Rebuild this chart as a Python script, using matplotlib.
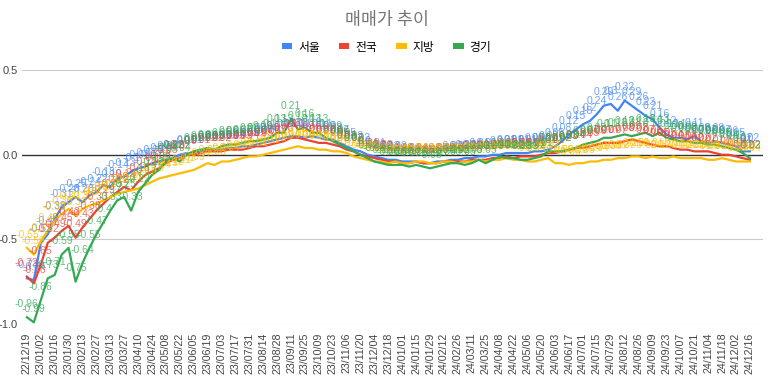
import numpy as np
import pandas as pd
import matplotlib
matplotlib.use("Agg")
import matplotlib.pyplot as plt
from matplotlib.patches import Patch

# weekly dates, every week from 22/12/19 to 24/12/16
dates = pd.date_range("2022-12-19", "2024-12-16", freq="7D")
date_labels = [d.strftime("%y/%m/%d") for d in dates]

seoul = [-0.73, -0.74, -0.52, -0.47, -0.38, -0.31, -0.28, -0.25, -0.28, -0.24,
         -0.22, -0.18, -0.19, -0.14, -0.13, -0.10, -0.08, -0.07, -0.05, -0.04,
         -0.03, -0.02, 0.00, 0.01, 0.01, 0.02, 0.03, 0.03, 0.03, 0.04,
         0.04, 0.05, 0.05, 0.06, 0.07, 0.08, 0.09, 0.10, 0.11, 0.11,
         0.10, 0.11, 0.10, 0.09, 0.09, 0.07, 0.05, 0.03, 0.02, 0.00,
         -0.01, -0.02, -0.03, -0.03, -0.04, -0.04, -0.04, -0.05, -0.05, -0.04,
         -0.04, -0.03, -0.03, -0.02, -0.02, -0.01, -0.01, 0.00, 0.00, 0.01,
         0.01, 0.01, 0.01, 0.02, 0.02, 0.03, 0.05, 0.08, 0.12, 0.15,
         0.18, 0.20, 0.24, 0.29, 0.30, 0.26, 0.32, 0.29, 0.26, 0.23,
         0.21, 0.16, 0.12, 0.10, 0.10, 0.09, 0.11, 0.08, 0.07, 0.08,
         0.07, 0.06, 0.05, 0.02, 0.02]
nation = [-0.72, -0.76, -0.65, -0.52, -0.49, -0.45, -0.42, -0.49, -0.43, -0.38,
          -0.33, -0.29, -0.25, -0.22, -0.19, -0.21, -0.16, -0.12, -0.10, -0.08,
          -0.05, -0.03, -0.02, 0.00, 0.00, 0.01, 0.02, 0.02, 0.02, 0.03,
          0.03, 0.03, 0.04, 0.05, 0.05, 0.06, 0.07, 0.08, 0.10, 0.10,
          0.09, 0.08, 0.07, 0.07, 0.06, 0.05, 0.03, 0.02, 0.00, -0.01,
          -0.02, -0.03, -0.04, -0.04, -0.05, -0.05, -0.04, -0.05, -0.05, -0.05,
          -0.04, -0.04, -0.04, -0.04, -0.03, -0.03, -0.03, -0.02, -0.02, -0.01,
          -0.02, -0.01, -0.01, -0.01, 0.00, 0.01, 0.01, 0.02, 0.03, 0.04,
          0.04, 0.05, 0.06, 0.07, 0.07, 0.07, 0.08, 0.09, 0.08, 0.07,
          0.06, 0.05, 0.05, 0.04, 0.03, 0.03, 0.02, 0.02, 0.02, 0.01,
          0.00, 0.00, -0.01, -0.02, -0.03]
local = [-0.55, -0.59, -0.51, -0.45, -0.39, -0.35, -0.32, -0.36, -0.32, -0.30,
         -0.29, -0.27, -0.25, -0.23, -0.22, -0.21, -0.20, -0.18, -0.16, -0.14,
         -0.13, -0.12, -0.11, -0.10, -0.09, -0.07, -0.05, -0.06, -0.04, -0.04,
         -0.03, -0.02, -0.01, -0.01, 0.00, 0.01, 0.02, 0.03, 0.04, 0.05,
         0.04, 0.04, 0.03, 0.03, 0.02, 0.02, 0.01, -0.01, -0.02, -0.03,
         -0.04, -0.04, -0.05, -0.04, -0.05, -0.05, -0.04, -0.04, -0.05, -0.05,
         -0.04, -0.04, -0.05, -0.04, -0.04, -0.03, -0.04, -0.03, -0.03, -0.02,
         -0.03, -0.03, -0.04, -0.04, -0.03, -0.02, -0.05, -0.05, -0.06, -0.05,
         -0.05, -0.04, -0.04, -0.03, -0.03, -0.02, -0.02, -0.01, -0.01, -0.02,
         -0.01, -0.02, -0.02, -0.01, -0.02, -0.02, -0.02, -0.02, -0.03, -0.03,
         -0.02, -0.03, -0.04, -0.04, -0.04]
gyeonggi = [-0.96, -0.99, -0.86, -0.73, -0.71, -0.59, -0.55, -0.75, -0.64, -0.55,
            -0.47, -0.40, -0.33, -0.27, -0.25, -0.33, -0.22, -0.17, -0.12, -0.09,
            -0.04, -0.02, -0.04, 0.00, 0.02, 0.03, 0.04, 0.03, 0.05, 0.06,
            0.06, 0.07, 0.08, 0.08, 0.09, 0.10, 0.13, 0.13, 0.21, 0.15,
            0.16, 0.13, 0.13, 0.10, 0.08, 0.06, 0.04, 0.02, 0.00, -0.02,
            -0.04, -0.05, -0.06, -0.06, -0.06, -0.07, -0.06, -0.07, -0.08, -0.07,
            -0.06, -0.05, -0.05, -0.06, -0.05, -0.03, -0.05, -0.03, -0.01, -0.02,
            -0.02, -0.03, -0.03, -0.02, -0.01, 0.02, 0.02, 0.02, 0.03, 0.04,
            0.06, 0.07, 0.08, 0.10, 0.10, 0.11, 0.12, 0.11, 0.12, 0.13,
            0.11, 0.13, 0.10, 0.09, 0.08, 0.08, 0.07, 0.07, 0.06, 0.06,
            0.05, 0.04, 0.03, 0.01, -0.02]

names = ["서울", "전국", "지방", "경기"]
colors = ["#4285F4", "#EA4335", "#FBBC04", "#34A853"]
series = [seoul, nation, local, gyeonggi]

kr = ["Noto Sans CJK KR", "DejaVu Sans"]


def fmt(v):
    s = f"{v:.2f}".rstrip("0").rstrip(".")
    return "0" if s in ("-0", "") else s


fig = plt.figure(figsize=(7.73, 3.83), dpi=100)
ax = fig.add_axes([0.0285, 0.154, 0.9586, 0.663])

x = np.arange(len(dates))
for vals, c in zip(series, colors):
    ax.plot(x, vals, color=c, lw=1.6, zorder=4)
# data labels above every point
for vals, c in zip(series, colors):
    for xi, v in zip(x, vals):
        ax.annotate(fmt(v), (xi, v), xytext=(0, 6), textcoords="offset points",
                    ha="center", va="bottom", fontsize=7.5, color=c, alpha=0.75,
                    family="Liberation Sans", zorder=5, annotation_clip=False)

ax.set_ylim(-1.0, 0.5)
ax.set_xlim(-0.7, 105.9)
ax.set_yticks([-1.0, -0.5, 0.0, 0.5])
ax.set_yticklabels(["-1.0", "-0.5", "0.0", "0.5"], family="Liberation Sans")
for yv in [-1.0, -0.5, 0.5]:
    ax.axhline(yv, color="#cccccc", lw=0.8, zorder=1)
ax.axhline(0, color="#333333", lw=1.0, zorder=2)

ax.set_xticks(x[::2])
ax.set_xticklabels(date_labels[::2], rotation=90, fontsize=7.7, color="#444444",
                   family="Liberation Sans")
ax.tick_params(axis="x", length=0, pad=6)
ax.tick_params(axis="y", length=0, pad=3, labelsize=8, labelcolor="#444444")
for sp in ax.spines.values():
    sp.set_visible(False)

fig.text(0.5, 1 - 20 / 383, "매매가 추이", ha="center", va="center",
         fontsize=12.5, color="#757575", family=kr)

handles = [Patch(facecolor=c, edgecolor="none") for c in colors]
fig.legend(handles, names, loc="center", bbox_to_anchor=(0.5, 1 - 47 / 383),
           ncol=4, frameon=False, handlelength=0.9, handleheight=0.45,
           handletextpad=0.5, columnspacing=1.6,
           prop={"family": kr, "size": 8.5})

fig.savefig("out.png", dpi=100)
